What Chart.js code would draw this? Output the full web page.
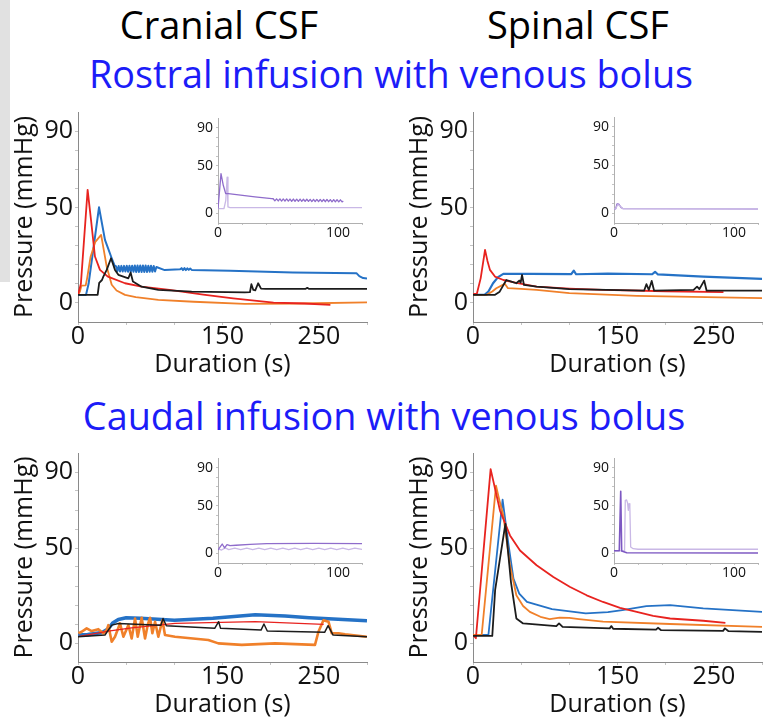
<!DOCTYPE html>
<html>
<head>
<meta charset="utf-8">
<script src="https://cdn.jsdelivr.net/npm/chart.js@4.4.1/dist/chart.umd.min.js"></script>
<style>
	body { margin: 0; width: 766px; height: 722px; overflow: hidden; background: #fff; position: relative; font-family: "Open Sans", sans-serif; }
	canvas { position: absolute; }
	.edge { position: absolute; left: 0; top: 0; width: 10px; height: 282px; background: #e1e1e1; }
	.head { position: absolute; transform: translateX(-50%); white-space: nowrap; font-size: 38px; line-height: 38px; color: #000; }
	.sub { position: absolute; transform: translateX(-50%); white-space: nowrap; font-size: 37.8px; line-height: 38px; color: #1c1cf8; }
</style>
</head>
<body>
<div class="edge"></div>
<div class="head" style="left:219px;top:5px">Cranial CSF</div>
<div class="head" style="left:578px;top:5px">Spinal CSF</div>
<div class="sub" style="left:391px;top:55px">Rostral infusion with venous bolus</div>
<div class="sub" style="left:384px;top:397px">Caudal infusion with venous bolus</div>

<canvas id="rostral-cranial" width="380" height="285" style="left:0;top:100px"></canvas>
<canvas id="rostral-spinal" width="371" height="285" style="left:395px;top:100px"></canvas>
<canvas id="caudal-cranial" width="380" height="285" style="left:0;top:440px"></canvas>
<canvas id="caudal-spinal" width="371" height="285" style="left:395px;top:440px"></canvas>
<canvas id="rostral-cranial-inset" width="180" height="140" style="left:190px;top:108px"></canvas>
<canvas id="rostral-spinal-inset" width="176" height="140" style="left:586px;top:108px"></canvas>
<canvas id="caudal-cranial-inset" width="180" height="140" style="left:190px;top:448px"></canvas>
<canvas id="caudal-spinal-inset" width="176" height="140" style="left:586px;top:448px"></canvas>

<script>
// axes
const mainXTicks = [0, 50, 100, 150, 200, 250, 300]
const mainXLabels = [0, 150, 250]
const mainYTicks = [0, 10, 20, 30, 40, 50, 60, 70, 80, 90]
const mainYLabels = [0, 50, 90]
const insetXTicks = [0, 20, 40, 60, 80, 100, 120]
const insetXLabels = [0, 100]
const insetYTicks = [0, 10, 20, 30, 40, 50, 60, 70, 80, 90]
const insetYLabels = [0, 50, 90]

// rostral infusion, cranial CSF  [time s, pressure mmHg]
const rcRed = [[0,4.2],[3,10],[10,59.2],[13.5,43.5],[17.6,24.3],[22.8,17.3],[31,13.8],[48.8,10.3],[66,8.5],[95,6.8],[130,4.3],[161,2.4],[203,0.2],[235,-0.3],[262,-1]]
const rcBlue = [[0,4.2],[8.3,4.2],[11,10],[21.8,50.1],[28,33],[35,23.4],[38,19.5],
	[39.4,19.2],[40.8,16.6],[42.2,19.3],[43.6,16.5],[45,19.4],[46.4,16.4],[47.8,19.4],[49.2,16.4],[50.6,19.5],[52,16.3],
	[53.4,19.5],[54.8,16.3],[56.2,19.5],[57.6,16.3],[59,19.6],[60.4,16.2],[61.8,19.6],[63.2,16.2],[64.6,19.6],[66,16.2],
	[67.4,19.6],[68.8,16.2],[70.2,19.6],[71.6,16.2],[73,19.5],[74.4,16.3],[75.8,19.5],[77.2,16.3],[78.6,19.3],[80,16.5],[81.4,18.8],
	[90,17.2],[106,17.6],[107.5,18.2],[109,17.2],[110.5,18.2],[112,17.2],[113.5,18.1],[115,17.3],[116.5,18],[118,17.3],
	[158,16.9],[223,15.9],[289,15.6],[292,14],[296,13],[300,12.8]]
const rcOrange = [[0,4.2],[2,6],[3.5,9],[8,9.2],[9.5,13],[13,24],[18,32],[24,35.6],[29.8,19],[35,9.5],[40,6.5],[48.8,4.2],[60,3],[83.4,1.6],[120,0.6],[173,-0.5],[230,-0.3],[300,0.3]]
const rcBlack = [[0,4.2],[20.4,4.2],[22,10.5],[24.9,12],[26.3,13.8],[29.8,17.3],[34.3,23.4],[38.4,17.3],[41.9,14.7],[52.3,12.9],[54.6,15.9],[57,11.2],[66,8.5],[83.4,6.8],[118,5.9],[173,5.5],[178.5,5.6],[180,9.8],[182,6.8],[184,6.6],[187,10.3],[190,7.5],[195,7.3],[236,7.3],[238,7.9],[240,7.3],[300,7.3]]
const rcInsetDark = [[0,5],[2.5,41.7],[4.4,29.5],[6.4,20.7],[8.6,20.7],[30.8,17.3],[44.7,15.5],
	[46,15.4],[47.4,13.2],[48.8,15.3],[50.2,13.1],[51.6,15.3],[53,13],[54.4,15.2],[55.8,12.9],[57.2,15.2],[58.6,12.9],[60,15.1],
	[61.4,12.8],[62.8,15.1],[64.2,12.8],[65.6,15],[67,12.7],[68.4,15],[69.8,12.7],[71.2,14.9],[72.6,12.6],[74,14.9],[75.4,12.6],
	[76.8,14.8],[78.2,12.5],[79.6,14.8],[81,12.5],[82.4,14.7],[83.8,12.4],[85.2,14.7],[86.6,12.4],[88,14.6],[89.4,12.3],[90.8,14.6],
	[92.2,12.3],[93.6,14.5],[95,12.2],[96.4,14.5],[97.8,12.2],[99.2,14.4],[100.6,12.1],[102,14.3],[103.4,12.1],[104.4,13]]
const rcInsetLight = [[0,5],[5,5.2],[6.5,13.8],[7.6,38],[8.3,6.8],[10,6.1],[120,6.1]]

// rostral infusion, spinal CSF
const rsRed = [[0,4.6],[4,4.8],[8,13],[12.5,27.8],[15,22],[17.6,17.3],[22.8,13.8],[31.5,12],[45,10.5],[66,8.5],[100,7.5],[135,6.8],[200,6.1],[260,5.6]]
const rsBlue = [[0,4.2],[12,4.2],[16,6],[20.8,10.3],[26,13.5],[31.5,15.2],[60,15.2],[102,15.1],[104.6,16.9],[107,15],[140,15.3],[186,15],[189,16.3],[192,14.9],[239,13.8],[300,12.6]]
const rsOrange = [[0,4.2],[14,4.2],[20,6],[24.2,7.7],[30,9.2],[33,10],[36.3,7.7],[50,7.3],[66,6.8],[100,5.1],[170,3.7],[300,2.5]]
const rsBlack = [[0,4.2],[22.5,4.2],[27.7,5.9],[34.6,12],[39.8,11.2],[45,10.3],[48,11.7],[49.5,10.6],[50.9,14.7],[52.9,9.4],[66,8.5],[100,7.2],[177.6,6.4],[180,9.8],[182.5,6.8],[185.5,11.5],[188,6.4],[229,6.8],[232.6,8.5],[235,7.2],[240,11.7],[242.5,6.4],[300,6.4]]
const rsInsetDark = [[0,4.7],[1.4,4.8],[2.5,9.9],[4,9.5],[6,6],[7.5,5],[120,4.7]]
const rsInsetLight = [[0,4.7],[1.5,5],[3,9],[5,8],[7,5],[120,5]]

// caudal infusion, cranial CSF
const ccRed = [[0,3.3],[31.5,6.3],[55.7,8],[100.8,10.3],[184,11.2],[255,9.8]]
const ccBlue = [[0,4.2],[10,4.4],[25,5.5],[31.5,7.5],[36,10.5],[41.9,12.4],[50,13.3],[65,13],[100,12],[140,13],[184,14.9],[215,14.2],[240,13.3],[300,11.7]]
const ccOrange = [[0.35,5.1],[3.8,5.9],[9,7.7],[14.2,6.3],[21.1,7.3],[26.3,5.1],[29.8,6.8],[31.5,9.4],[35,0.7],[38.4,3.3],[43.6,10.3],[47.1,3.3],[52.3,9.4],[55.7,2.4],[59.2,12.9],[62,3.3],[66.1,13.3],[69.6,2.4],[72.3,9.4],[74.8,13.3],[77.2,5.1],[80,11.2],[83.4,3.3],[87.6,12],[90.3,4.2],[100.7,3.3],[135.3,1.6],[145.7,-0.2],[170,-1],[204.6,-0.2],[246,-1],[249.6,5.9],[254.8,12],[260,11.2],[263.4,5.1],[270.4,5.1],[277.3,4.6],[299.8,3.3]]
const ccBlack = [[0,3.3],[28,4.2],[35,9.4],[41.9,10.3],[66,9.8],[86,9.3],[88.3,12.9],[91.7,9.1],[141.9,7.7],[146,11.2],[148,7.7],[190,6.8],[193,10],[196.5,6.3],[256,5.6],[259.6,9.1],[264.8,4.2],[300,3.3]]
const ccInsetDark = [[0,3.7],[3.5,9.9],[5.5,5.8],[7.5,9.3],[10,8.1],[15,8.6],[26.7,9.6],[40.6,10.3],[80,10.5],[120,10.3]]
const ccInsetLight = [[0,5],[3,3.6],[6,5.8],[9,4],[14,5.6],[19,3.9],[24,5.6],[29,3.9],[34,5.6],[39,3.9],[44,5.6],[49,3.9],[54,5.6],[59,3.9],[64,5.6],[69,3.9],[74,5.6],[79,3.9],[84,5.6],[89,3.9],[94,5.6],[99,3.9],[104,5.6],[109,3.9],[114,5.6],[120,4.2]]

// caudal infusion, spinal CSF
const csRed = [[0,4.2],[3,2.5],[18.3,91.5],[28,69.7],[38.4,56.6],[48.8,48.7],[66,40.9],[83.4,34.7],[100.8,29.5],[118,25.1],[135,21.6],[152.6,18.5],[170,16.4],[187,14.3],[204.6,12.9],[239,11.7],[262,10.6]]
const csBlue = [[0,4.2],[16,4.2],[30.7,75.4],[37,51.3],[42,33.9],[48,26],[56,21.6],[82,17.8],[117,15.6],[140,16.2],[155,17.3],[180,19.4],[204.6,19.9],[239,18.2],[300,16.4]]
const csOrange = [[0,4.2],[9,4.2],[23.9,82.8],[27,76],[31.5,67],[38.4,40.9],[45,25.1],[52,19.5],[59,16.4],[70,13.8],[79.6,12.6],[90,13.3],[100,13.2],[110,12.6],[135,11.2],[204.6,10],[300,8.5]]
const csBlack = [[0,3.7],[20,3.7],[23,28],[33.6,62.7],[39.4,32.1],[45,12.9],[52,10.3],[86.5,8.9],[89.3,10.3],[93,8.5],[141.9,7.7],[143.6,8.9],[145.5,7.5],[190,7],[192,8],[195,6.8],[259.6,6.4],[261.5,7.7],[265,6.3],[300,5.9]]
const csInsetDark = [[0,2.8],[4.4,2.8],[5.6,65.1],[6.4,2.6],[10.6,0.8],[120,0.5]]
const csInsetLight = [[0,2.8],[8.8,2.8],[9.4,55.7],[10.5,56],[11.3,53],[11.9,45.2],[12.5,52.1],[13.2,49],[13.9,6.8],[16,5],[20,4.4],[120,4.4]]

const RED = "#e8231f"
const BLUE = "#2572c6"
const ORANGE = "#f0802a"
const BLACK = "#1c1c1c"
const PURPLE = "#8f6ccb"
const LAVENDER = "#c9b8e6"

Chart.defaults.font.family = "'Open Sans', sans-serif"
Chart.defaults.color = "#111"

function line(data, color, width) {
	return {
		data: data,
		borderColor: color,
		borderWidth: width || 1.8,
		borderJoinStyle: "round",
		pointRadius: 0,
		tension: 0
	}
}

function axis(o) {
	return {
		type: "linear",
		min: o.min,
		max: o.max,
		afterBuildTicks: s => { s.ticks = o.ticks.map(v => ({ value: v })) },
		afterFit: s => {
			if (s.isHorizontal()) s.height = o.size
			else s.width = o.size
			s.paddingTop = s.paddingBottom = s.paddingLeft = s.paddingRight = 0
		},
		ticks: {
			autoSkip: false,
			maxRotation: 0,
			padding: o.pad,
			color: "#111",
			font: { size: o.font },
			callback: v => o.labels.includes(v) ? String(v) : ""
		},
		grid: { drawOnChartArea: false, tickLength: o.tick, color: "#c4c4c4" },
		border: { color: o.line, width: 1 },
		title: o.title
			? { display: true, text: o.title, color: "#111", font: { size: o.font }, padding: o.titlePad }
			: { display: false }
	}
}

function plot(id, datasets, padding, xAxis, yAxis) {
	new Chart(document.getElementById(id).getContext("2d"), {
		type: "line",
		data: { datasets: datasets },
		options: {
			responsive: false,
			animation: false,
			events: [],
			layout: { padding: padding },
			plugins: { legend: { display: false }, tooltip: { enabled: false } },
			scales: { x: axis(xAxis), y: axis(yAxis) }
		}
	})
}

const mainX = { min: 0, max: 300, ticks: mainXTicks, labels: mainXLabels, size: 63, font: 25, tick: 3, pad: -3, title: "Duration (s)", titlePad: { top: 0, bottom: 5 }, line: "#8a8a8a" }
const mainY = { min: -10, max: 100, ticks: mainYTicks, labels: mainYLabels, size: 78, font: 25, tick: 3, pad: 2, title: "Pressure (mmHg)", titlePad: { top: 10, bottom: 0 }, line: "#8a8a8a" }
const insetX = { min: 0, max: 120, ticks: insetXTicks, labels: insetXLabels, size: 25, font: 14, tick: 2, pad: 0, line: "#b0b0b0" }
const insetY = { min: -10, max: 100, ticks: insetYTicks, labels: insetYLabels, size: 28, font: 14, tick: 2, pad: 3, line: "#b0b0b0" }

plot("rostral-cranial", [line(rcBlack, BLACK), line(rcRed, RED), line(rcOrange, ORANGE), line(rcBlue, BLUE, 2)],
	{ top: 12, right: 13, left: 0, bottom: 0 }, mainX, mainY)
plot("rostral-spinal", [line(rsBlack, BLACK), line(rsRed, RED), line(rsOrange, ORANGE), line(rsBlue, BLUE, 2.2)],
	{ top: 12, right: 4, left: 0, bottom: 0 }, mainX, mainY)
plot("caudal-cranial", [line(ccBlack, BLACK, 1.5), line(ccRed, RED, 1.3), line(ccOrange, ORANGE, 2.6), line(ccBlue, BLUE, 3.6)],
	{ top: 13, right: 13, left: 0, bottom: 0 }, mainX, mainY)
plot("caudal-spinal", [line(csBlack, BLACK), line(csRed, RED), line(csOrange, ORANGE), line(csBlue, BLUE)],
	{ top: 13, right: 4, left: 0, bottom: 0 }, mainX, mainY)

plot("rostral-cranial-inset", [line(rcInsetDark, PURPLE, 1.3), line(rcInsetLight, LAVENDER, 1.3)],
	{ top: 10, right: 8, left: 0, bottom: 0 }, insetX, insetY)
plot("rostral-spinal-inset", [line(rsInsetLight, LAVENDER, 1.3), line(rsInsetDark, PURPLE, 1.3)],
	{ top: 9, right: 4, left: 0, bottom: 0 }, insetX, insetY)
plot("caudal-cranial-inset", [line(ccInsetDark, PURPLE, 1.3), line(ccInsetLight, LAVENDER, 1.3)],
	{ top: 10, right: 8, left: 0, bottom: 0 }, insetX, insetY)
plot("caudal-spinal-inset", [line(csInsetDark, "#7d58c2", 1.6), line(csInsetLight, LAVENDER, 1.3)],
	{ top: 10, right: 4, left: 0, bottom: 0 }, insetX, insetY)
</script>
</body>
</html>
